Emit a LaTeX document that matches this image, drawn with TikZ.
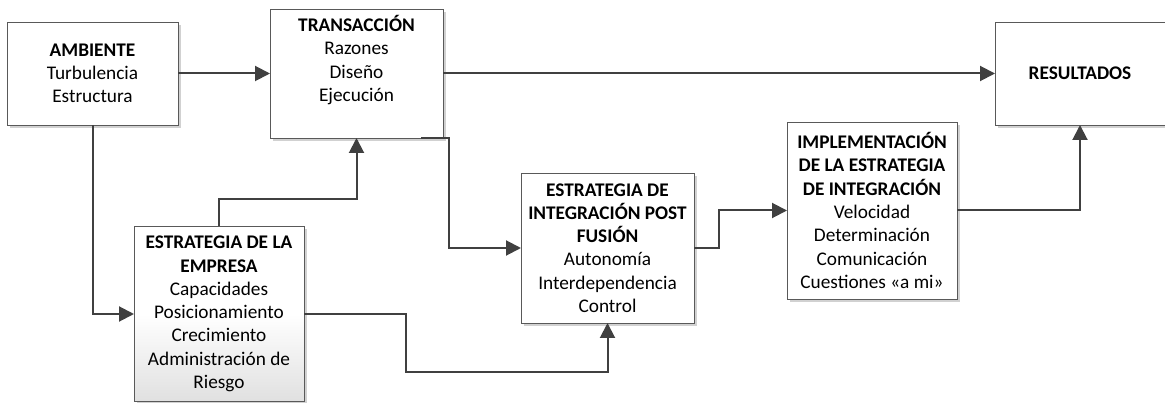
\documentclass[tikz,border=0pt]{standalone}
\usepackage{fontspec}
\setmainfont{Carlito}
\usetikzlibrary{arrows.meta,shadows}
\begin{document}
\begin{tikzpicture}[x=1pt,y=-1pt,
  box/.style={draw=black!65, line width=0.9pt, fill=white, inner sep=0pt, outer sep=0pt,
    align=center, font=\fontsize{19.3}{23.3}\selectfont,
    drop shadow={shadow xshift=3pt, shadow yshift=-3pt, fill=black!18, opacity=1}},
  link/.style={draw=black!75, line width=2pt, -{Triangle[length=15pt,width=15pt]}}
]
\useasboundingbox (0,0) rectangle (1165,403);

% boxes
\node[box, minimum width=171pt, minimum height=103pt] (amb) at (92.5,73.5)
  {\textbf{AMBIENTE}\\Turbulencia\\Estructura};
\node[box, minimum width=173pt, minimum height=129pt] (trans) at (356.5,73.5)
  {\textbf{TRANSACCIÓN}\\Razones\\Diseño\\Ejecución\\\strut};
\node[box, minimum width=170pt, minimum height=103pt] (res) at (1080,73.5)
  {\textbf{RESULTADOS}};
\node[box, minimum width=170pt, minimum height=175pt, top color=white, bottom color=black!12,
  middle color=white] (emp) at (219,314)
  {\textbf{ESTRATEGIA DE LA}\\\textbf{EMPRESA}\\Capacidades\\Posicionamiento\\Crecimiento\\Administración de\\Riesgo};
\node[box, minimum width=173pt, minimum height=150pt] (post) at (607.5,248)
  {\textbf{ESTRATEGIA DE}\\\textbf{INTEGRACIÓN POST}\\\textbf{FUSIÓN}\\Autonomía\\Interdependencia\\Control};
\node[box, minimum width=170pt, minimum height=177pt] (impl) at (872,210.5)
  {\textbf{IMPLEMENTACIÓN}\\\textbf{DE LA ESTRATEGIA}\\\textbf{DE INTEGRACIÓN}\\Velocidad\\Determinación\\Comunicación\\Cuestiones «a mi»};

% bend points
\coordinate (t0) at ([xshift=-22pt]trans.south east);
\coordinate (e1) at (406,372);

% connectors
\draw[link] (amb.east) -- (trans.west);
\draw[link] (trans.east) -- (res.west);
\draw[link] (amb.south) |- (emp.west);
\draw[link] (emp.north) -- ++(0,-27) -| (trans.south);
\draw[link] (t0) -- ++(28,0) |- (post.west);
\draw[link] (emp.east) -| (e1) -| (post.south);
\draw[link] (post.east) -- ++(25,0) |- (impl.west);
\draw[link] (impl.east) -| (res.south);
\end{tikzpicture}
\end{document}
